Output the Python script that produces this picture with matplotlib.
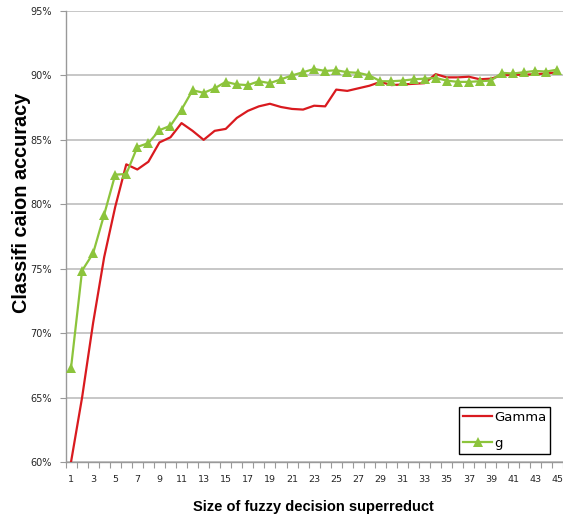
import matplotlib
matplotlib.use("Agg")
import matplotlib.pyplot as plt
from matplotlib.ticker import FixedLocator, FuncFormatter

sizes = list(range(1, 46))
gamma = [60.0, 65.0, 70.8, 75.9, 79.8, 83.1, 82.7, 83.3, 84.8, 85.2,
         86.3, 85.7, 85.0, 85.7, 85.85, 86.7, 87.25, 87.6, 87.8, 87.55,
         87.4, 87.35, 87.65, 87.6, 88.9, 88.8, 89.0, 89.2, 89.5, 89.25,
         89.3, 89.35, 89.4, 90.1, 89.85, 89.85, 89.9, 89.7, 89.75, 90.0,
         90.05, 90.05, 90.1, 90.15, 90.25]
g = [67.3, 74.85, 76.2, 79.2, 82.3, 82.35, 84.45, 84.75, 85.75, 86.1,
     87.35, 88.85, 88.65, 89.0, 89.5, 89.3, 89.25, 89.55, 89.4, 89.7,
     90.0, 90.25, 90.5, 90.35, 90.4, 90.25, 90.2, 90.0, 89.55, 89.55,
     89.6, 89.7, 89.75, 89.8, 89.6, 89.5, 89.5, 89.55, 89.6, 90.2,
     90.15, 90.25, 90.35, 90.3, 90.45]
yticks = [60, 65, 70, 75, 80, 85, 90, 95]
xlabel = "Size of fuzzy decision superreduct"
ylabel = "Classifi caion accuracy"

W, H = 563, 516
fig = plt.figure(figsize=(W / 100, H / 100), dpi=100)
left, right, top, bottom = 65.5, 563, 11, 462
step = 11.05
ax = fig.add_axes([left / W, 1 - bottom / H, (right - left) / W, (bottom - top) / H])

pos = list(range(len(sizes)))
ax.plot(pos, gamma, color="#D91A1F", lw=1.6, label="Gamma", zorder=3)
ax.plot(pos, g, color="#8CC43C", lw=1.6, marker="^", markersize=6.5,
        markeredgewidth=0, label="g", zorder=4)

ax.set_xlim(-0.5, -0.5 + (right - left) / step)
ax.set_ylim(60, 95)
ax.set_yticks(yticks)
ax.yaxis.set_major_formatter(FuncFormatter(lambda v, p: f"{int(v)}%"))
ax.yaxis.grid(True, color="#BDBDBD", lw=1.2)
ax.set_axisbelow(True)

# x ticks: marks at category boundaries, labels on odd sizes
ax.xaxis.set_major_locator(FixedLocator([i - 0.5 for i in range(len(sizes) + 1)]))
ax.xaxis.set_major_formatter(FuncFormatter(lambda v, p: ""))
ax.xaxis.set_minor_locator(FixedLocator([i for i in pos if sizes[i] % 2 == 1]))
ax.xaxis.set_minor_formatter(FuncFormatter(lambda v, p: str(sizes[int(round(v))])))
ax.tick_params(axis="x", which="major", length=4, color="#999999", width=0.8)
ax.tick_params(axis="x", which="minor", length=0, pad=9, labelsize=6.8, labelcolor="#262626")
ax.tick_params(axis="y", length=4, color="#999999", width=0.8, labelsize=7,
               labelcolor="#262626", pad=6)

for s in ["top", "right"]:
    ax.spines[s].set_visible(False)
for s in ["left", "bottom"]:
    ax.spines[s].set_color("#999999")
    ax.spines[s].set_linewidth(1.0)

fig.text(313 / W, 1 - 507 / H, xlabel, ha="center", va="center",
         fontsize=10.5, fontweight="bold", family="Liberation Sans")
fig.text(22 / W, 1 - 203 / H, ylabel, ha="center", va="center", rotation=90,
         fontsize=14.3, fontweight="bold", family="Liberation Sans")

leg = ax.legend(loc="lower right",
                bbox_to_anchor=((550 - left) / (right - left), (bottom - 454) / (bottom - top)),
                fontsize=9.5, frameon=True, fancybox=False, edgecolor="black",
                framealpha=1, handlelength=2.2, handletextpad=0.1,
                labelspacing=1.0, borderpad=0.3, borderaxespad=0)
leg.get_frame().set_linewidth(1.0)

fig.savefig("out.png", dpi=100)
